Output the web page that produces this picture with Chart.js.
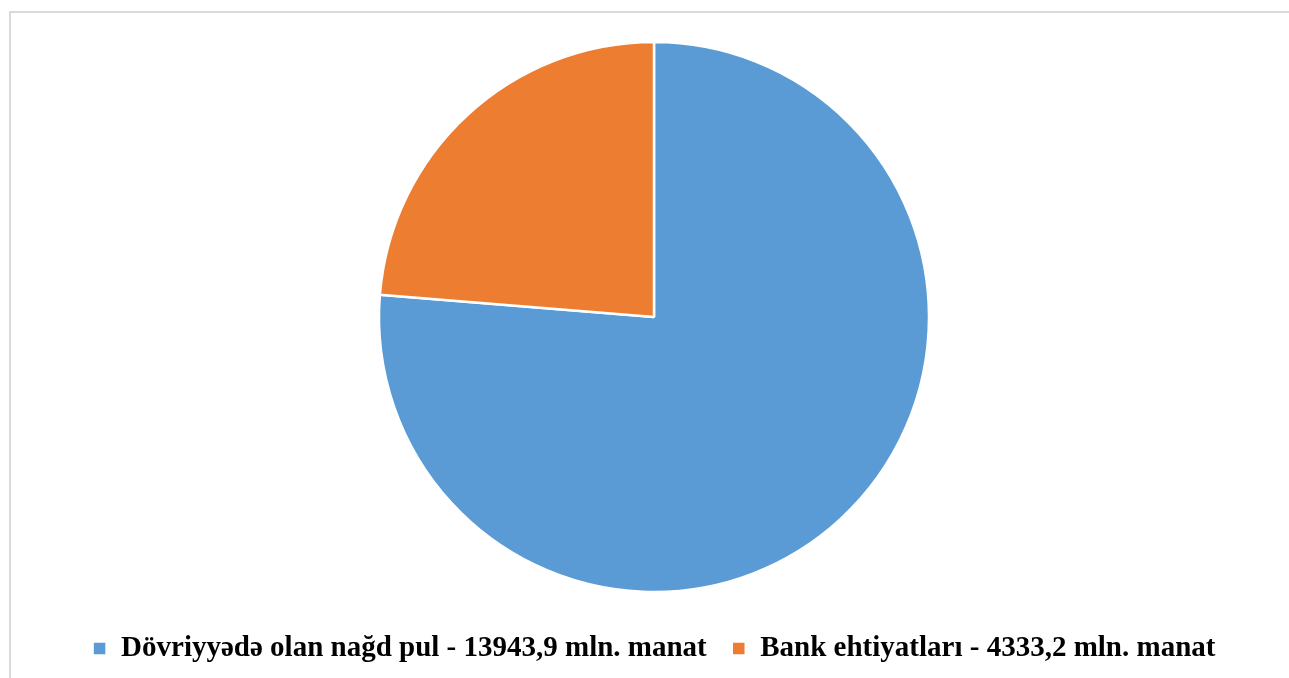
<!DOCTYPE html>
<html>
<head>
<meta charset="utf-8">
<script src="https://cdn.jsdelivr.net/npm/chart.js@4/dist/chart.umd.min.js"></script>
<style>
  html, body { margin: 0; padding: 0; background: #fff; }
  #frame {
    position: absolute; left: 9px; top: 11px; width: 1280px; height: 667px;
    border-left: 2px solid #d9d9d9; border-top: 2px solid #d9d9d9;
  }
  #wrap { position: absolute; left: 0; top: 0; width: 1289px; height: 678px; }
</style>
</head>
<body>
<div id="frame"></div>
<div id="wrap"><canvas id="myChart"></canvas></div>
<script>
var labels = ['Dövriyyədə olan nağd pul - 13943,9 mln. manat', 'Bank ehtiyatları - 4333,2 mln. manat'];
var values = [13943.9, 4333.2];
var colors = ['#5B9BD5', '#ED7D31'];

document.addEventListener("DOMContentLoaded", function () {
    var ctx = document.getElementById('myChart').getContext('2d');
    var chart = new Chart(ctx, {
        type: 'pie',
        data: {
            labels: labels,
            datasets: [{
                data: values,
                backgroundColor: colors,
                borderColor: '#ffffff',
                borderWidth: 2.5,
                radius: 275
            }]
        },
        options: {
            responsive: true,
            maintainAspectRatio: false,
            animation: false,
            layout: { padding: { top: 25, bottom: 5, left: 19, right: 0 } },
            plugins: {
                tooltip: { enabled: false },
                legend: {
                    position: 'bottom',
                    labels: {
                        boxWidth: 14,
                        boxHeight: 14,
                        padding: 25,
                        color: '#000',
                        font: { family: '"Liberation Serif", "Times New Roman", serif', size: 29, weight: 'bold' }
                    }
                }
            }
        }
    });
});
</script>
</body>
</html>
